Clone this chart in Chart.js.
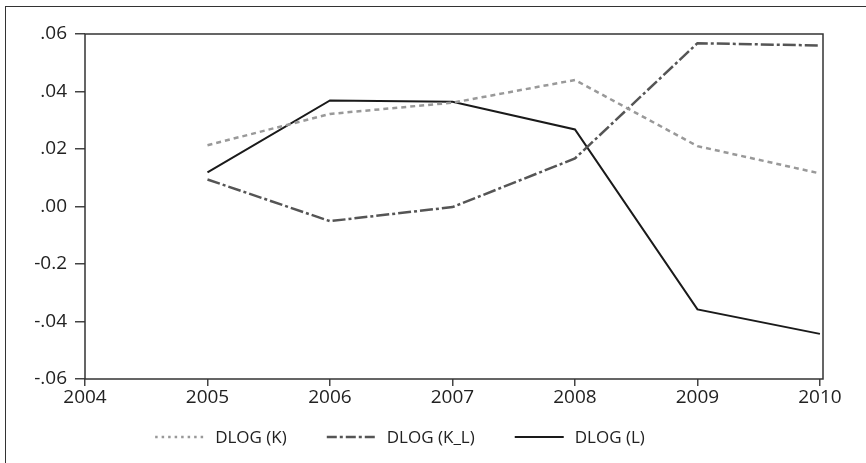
<!DOCTYPE html>
<html>
<head>
<meta charset="utf-8">
<script src="https://cdn.jsdelivr.net/npm/chart.js@4"></script>
<style>
  body { margin: 0; background: #fff; }
  #wrap { position: relative; width: 866px; height: 463px; }
  #frame { position: absolute; left: 5px; top: 6px; right: -10px; bottom: -10px;
           border-left: 1.5px solid #333; border-top: 1.5px solid #333; }
</style>
</head>
<body>
<div id="wrap">
  <div id="frame"></div>
  <canvas id="dlogChart"></canvas>
</div>
<script>
var years = [2005, 2006, 2007, 2008, 2009, 2010];
var xTicks = [2004, 2005, 2006, 2007, 2008, 2009, 2010];
var dlogK = [0.0213, 0.0322, 0.0361, 0.0440, 0.0210, 0.0115];
var dlogKL = [0.0094, -0.0051, -0.0002, 0.0167, 0.0568, 0.0560];
var dlogL = [0.0119, 0.0369, 0.0364, 0.0268, -0.0358, -0.0443];
var yTickValues = [0.06, 0.04, 0.02, 0.00, -0.02, -0.04, -0.06];
var yTickLabels = ['.06', '.04', '.02', '.00', '-0.2', '-.04', '-.06'];

function toPoints(vals) {
    return years.map(function (y, i) { return { x: y, y: vals[i] }; });
}

// frame round the plot area
var plotFrame = {
    id: 'plotFrame',
    afterDatasetsDraw: function (chart) {
        var a = chart.chartArea;
        var ctx = chart.ctx;
        ctx.save();
        ctx.strokeStyle = '#333';
        ctx.lineWidth = 1.5;
        ctx.strokeRect(a.left, a.top, a.right - a.left, a.bottom - a.top);
        ctx.restore();
    }
};

// legend with the dashed line samples, in one row under the axis
var lineLegend = {
    id: 'lineLegend',
    afterDraw: function (chart, args, opts) {
        var ctx = chart.ctx;
        var sets = chart.data.datasets;
        ctx.save();
        ctx.font = opts.fontSize + 'px ' + opts.fontFamily;
        var total = 0;
        var widths = sets.map(function (ds) { return ctx.measureText(ds.label).width; });
        widths.forEach(function (w) { total += opts.lineLen + opts.textGap + w; });
        total += opts.itemGap * (sets.length - 1);
        var x = opts.centerX - total / 2;
        var y = opts.y;
        sets.forEach(function (ds, i) {
            ctx.strokeStyle = ds.borderColor;
            ctx.lineWidth = ds.borderWidth;
            ctx.setLineDash(ds.legendDash || ds.borderDash || []);
            ctx.beginPath();
            ctx.moveTo(x, y);
            ctx.lineTo(x + opts.lineLen, y);
            ctx.stroke();
            ctx.setLineDash([]);
            x += opts.lineLen + opts.textGap;
            ctx.fillStyle = '#222';
            ctx.textBaseline = 'middle';
            ctx.fillText(ds.label, x, y + 1);
            x += widths[i] + opts.itemGap;
        });
        ctx.restore();
    }
};

var ctx = document.getElementById('dlogChart').getContext('2d');
new Chart(ctx, {
    type: 'line',
    data: {
        datasets: [{
            label: 'DLOG (K)',
            data: toPoints(dlogK),
            borderColor: '#999999',
            borderWidth: 2.5,
            borderDash: [5, 4],
            legendDash: [2.5, 4]
        }, {
            label: 'DLOG (K_L)',
            data: toPoints(dlogKL),
            borderColor: '#555555',
            borderWidth: 2.5,
            borderDash: [13, 3, 3, 3],
            legendDash: [10, 3, 3, 3]
        }, {
            label: 'DLOG (L)',
            data: toPoints(dlogL),
            borderColor: '#1a1a1a',
            borderWidth: 2
        }]
    },
    options: {
        responsive: true,
        maintainAspectRatio: false,
        animation: false,
        elements: { point: { radius: 0 }, line: { tension: 0 } },
        layout: { padding: { left: 0, top: 34, right: 43, bottom: 54 } },
        plugins: {
            tooltip: { enabled: false },
            legend: { display: false },
            lineLegend: {
                centerX: 400,
                y: 437,
                lineLen: 49,
                textGap: 11,
                itemGap: 40,
                fontSize: 17,
                fontFamily: 'Open Sans'
            }
        },
        scales: {
            x: {
                type: 'linear',
                min: 2004,
                max: 2010.025,
                afterBuildTicks: function (scale) {
                    scale.ticks = xTicks.map(function (v) { return { value: v }; });
                },
                afterFit: function (scale) { scale.height = 30; },
                grid: { drawOnChartArea: false, drawTicks: true, tickLength: 7, color: '#444', lineWidth: 1.5 },
                border: { display: false },
                ticks: {
                    padding: 0,
                    color: '#222',
                    font: { family: 'Open Sans', size: 19 },
                    callback: function (v) { return String(v); }
                }
            },
            y: {
                min: -0.06,
                max: 0.06,
                afterBuildTicks: function (scale) {
                    scale.ticks = yTickValues.map(function (v) { return { value: v }; });
                },
                afterFit: function (scale) { scale.width = 85; },
                grid: { drawOnChartArea: false, drawTicks: true, tickLength: 10, color: '#444', lineWidth: 1.5 },
                border: { display: false },
                ticks: {
                    padding: 8,
                    color: '#222',
                    font: { family: 'Open Sans', size: 19 },
                    callback: function (v, i) { return yTickLabels[i]; }
                }
            }
        }
    },
    plugins: [plotFrame, lineLegend]
});
</script>
</body>
</html>
